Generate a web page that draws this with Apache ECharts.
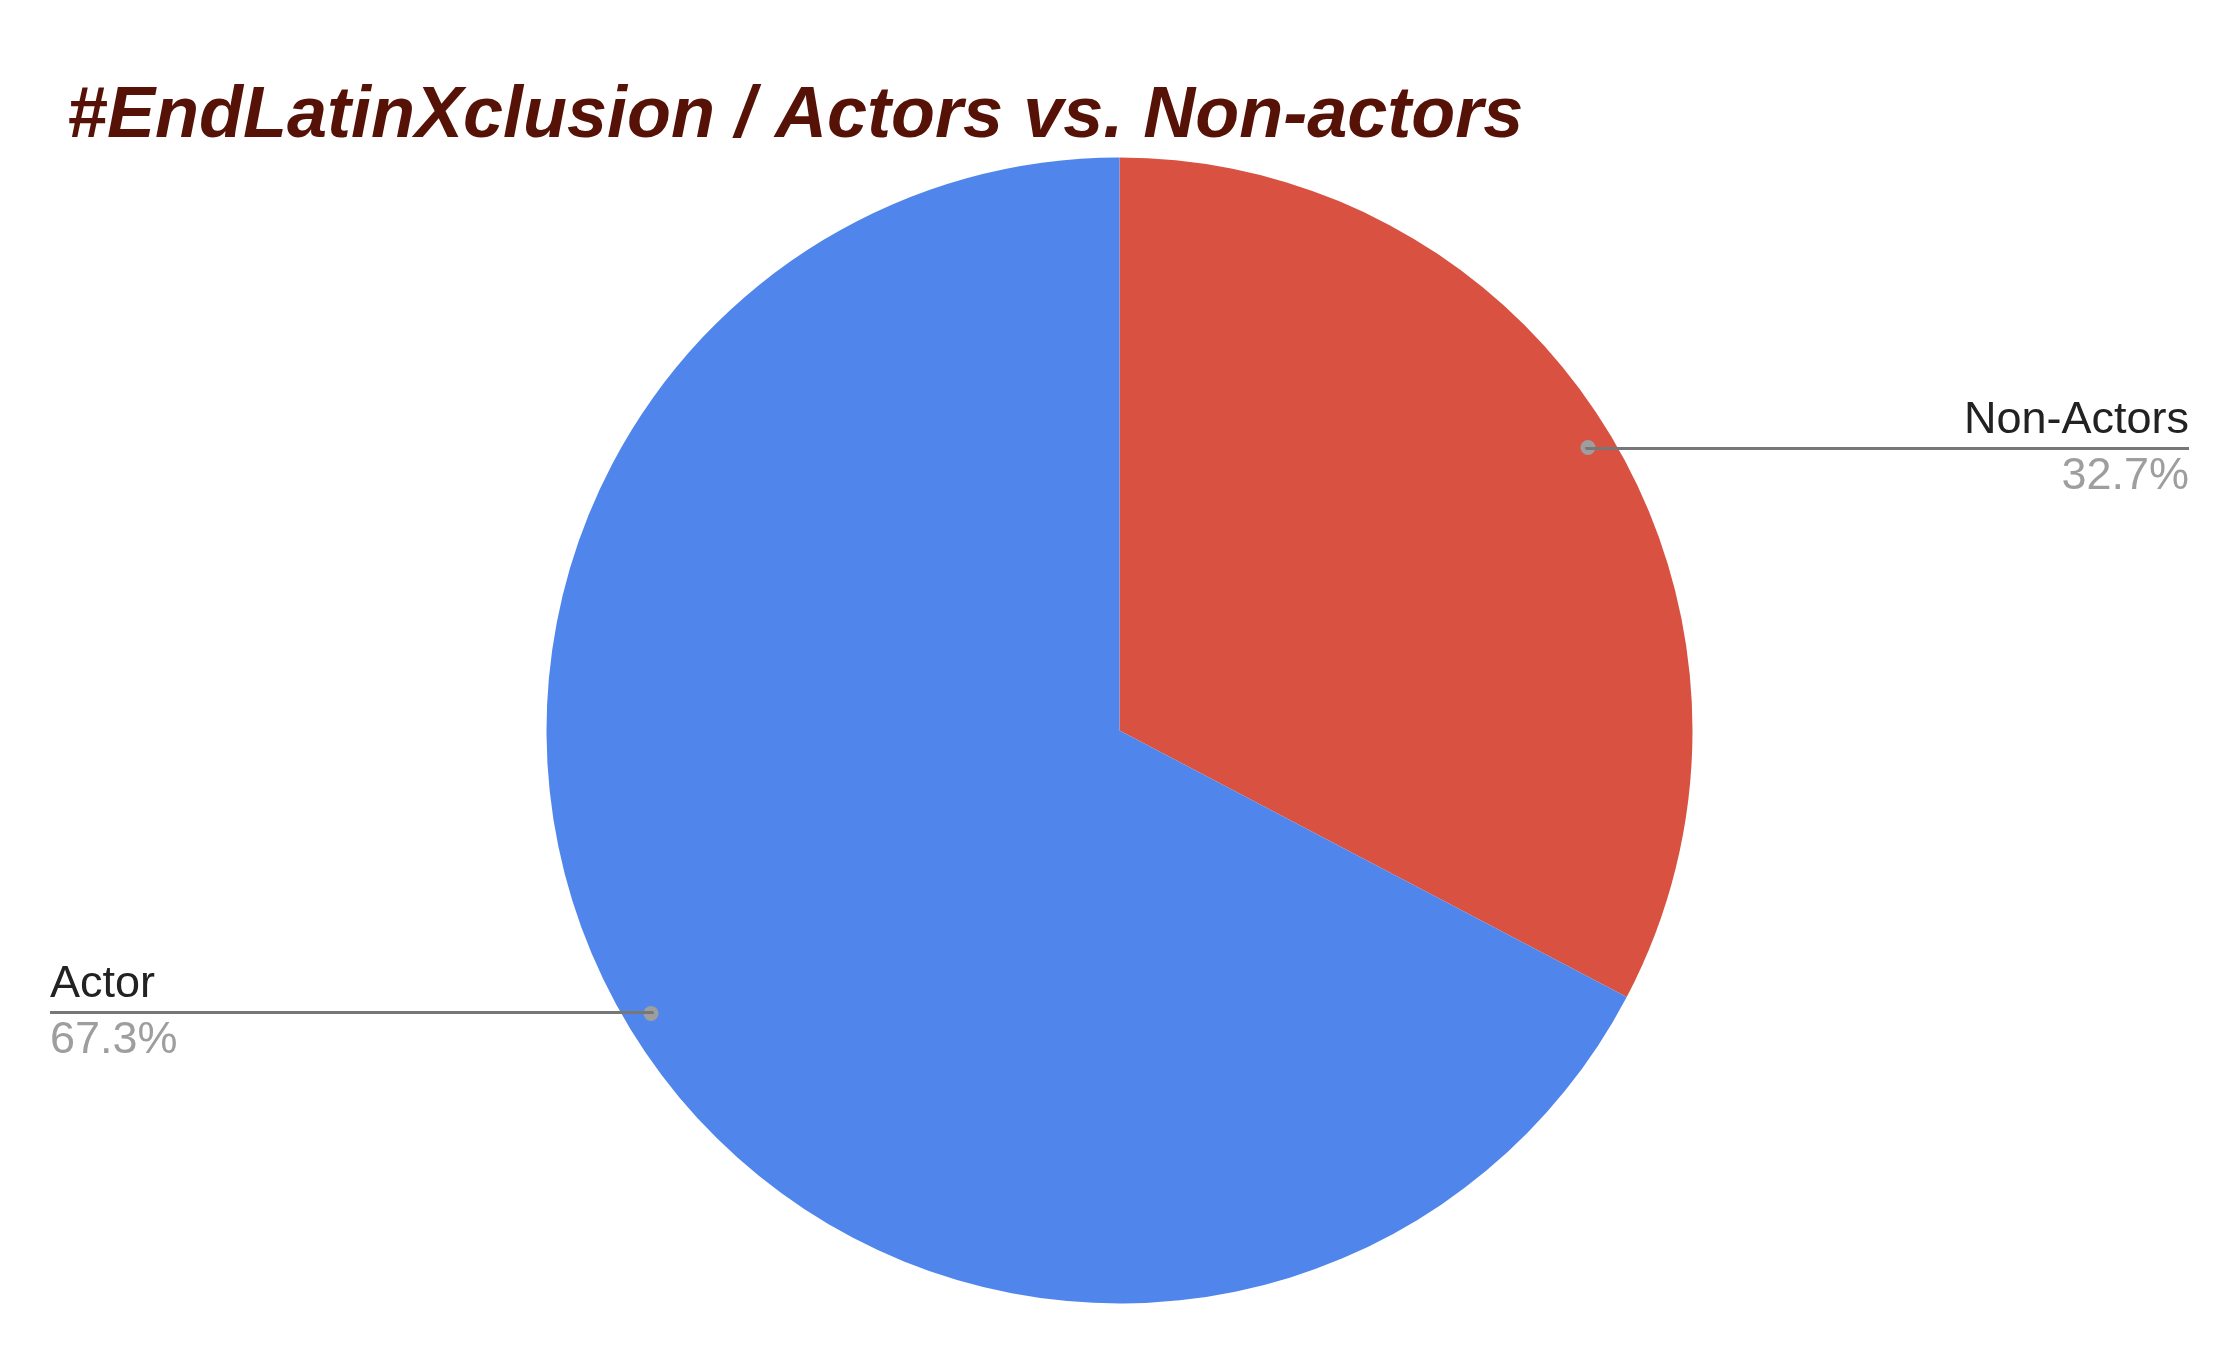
<!DOCTYPE html>
<html>
<head>
<meta charset="utf-8">
<script src="https://cdn.jsdelivr.net/npm/echarts@6/dist/echarts.min.js"></script>
<style>
html,body{margin:0;padding:0;background:#fff;}
#chart{width:2222px;height:1359px;}
</style>
</head>
<body>
<div id="chart"></div>
<script>
const titleText = '#EndLatinXclusion / Actors vs. Non-actors';
const categories = ['Non-Actors', 'Actor'];
const values = [32.7, 67.3];
const sliceColors = ['#D95140', '#5086EB'];

const chart = echarts.init(document.getElementById('chart'), null, {renderer: 'canvas'});

const CENTER = [1119.5, 730.5];
const R = 573;

const baseData = categories.map((c, i) => ({name: c, value: values[i]}));

const labelData = categories.map((c, i) => ({
  name: c,
  value: values[i],
  label: {edgeDistance: i === 0 ? 33 : 50}
}));

const option = {
  backgroundColor: '#ffffff',
  animation: false,
  title: {
    text: titleText,
    left: 62,
    top: 76,
    textStyle: {
      fontFamily: 'Liberation Sans, Arial, sans-serif',
      fontSize: 72,
      fontWeight: 'bold',
      fontStyle: 'italic',
      color: '#561207'
    }
  },
  series: [
    {
      type: 'pie',
      center: CENTER,
      radius: R,
      startAngle: 90,
      clockwise: true,
      silent: true,
      data: baseData,
      itemStyle: {
        color: function (p) { return sliceColors[p.dataIndex]; },
        borderWidth: 0
      },
      label: {show: false},
      labelLine: {show: false}
    },
    {
      type: 'pie',
      zlevel: 1,
      center: CENTER,
      radius: [R * 0.9, R],
      startAngle: 90,
      clockwise: true,
      silent: true,
      data: baseData,
      itemStyle: {color: 'rgba(0,0,0,0)', borderWidth: 0},
      label: {
        show: true,
        position: 'inside',
        formatter: '{dot|}',
        rich: {
          dot: {
            width: 15,
            height: 15,
            borderRadius: 7.5,
            backgroundColor: '#9E9E9E'
          }
        }
      },
      labelLine: {show: false}
    },
    {
      type: 'pie',
      zlevel: 2,
      center: CENTER,
      radius: R * 0.95,
      startAngle: 90,
      clockwise: true,
      silent: true,
      data: labelData,
      itemStyle: {color: 'rgba(0,0,0,0)', borderWidth: 0},
      label: {
        show: true,
        position: 'outside',
        alignTo: 'edge',
        distanceToLabelLine: 0,
        formatter: function (p) {
          return '{name|' + p.name + '}\n{pct|' + p.percent.toFixed(1) + '%}';
        },
        rich: {
          name: {
            fontFamily: 'Liberation Sans, Arial, sans-serif',
            fontSize: 45,
            color: '#222222',
            lineHeight: 56
          },
          pct: {
            fontFamily: 'Liberation Sans, Arial, sans-serif',
            fontSize: 45,
            color: '#9E9E9E',
            lineHeight: 56
          }
        }
      },
      labelLine: {
        show: true,
        length: 1,
        length2: 20,
        lineStyle: {color: '#777777', width: 3}
      },
      labelLayout: function (params) {
        const pts = params.labelLinePoints;
        if (!pts) return {};
        const isLeft = params.labelRect.x < chart.getWidth() / 2;
        pts[2][0] = isLeft ? params.labelRect.x : params.labelRect.x + params.labelRect.width;
        return {labelLinePoints: pts};
      }
    }
  ]
};

chart.setOption(option);
</script>
</body>
</html>
